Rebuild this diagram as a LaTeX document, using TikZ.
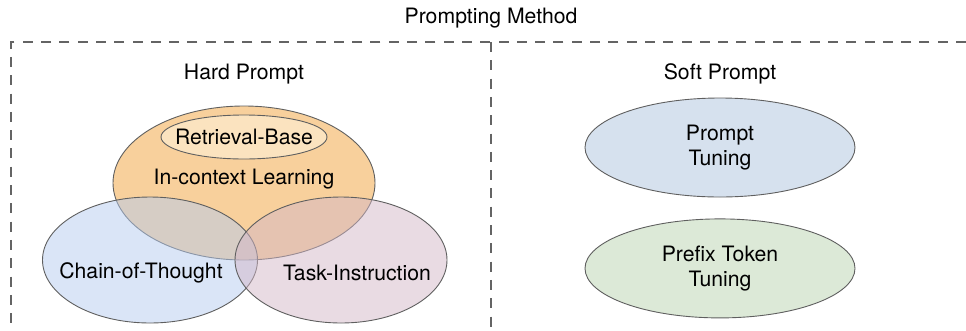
\documentclass[tikz,border=0pt]{standalone}
\usepackage{fontspec}
\setmainfont{TeX Gyre Heros}
\usetikzlibrary{shapes.geometric, positioning}

\definecolor{framegray}{RGB}{100,100,100}
\definecolor{edgegray}{RGB}{95,95,95}
\definecolor{iclfill}{RGB}{248,208,156}
\definecolor{retfill}{RGB}{251,227,191}
\definecolor{cotfill}{RGB}{181,203,239}
\definecolor{taskfill}{RGB}{211,183,199}
\definecolor{ptfill}{RGB}{214,225,238}
\definecolor{pttfill}{RGB}{220,233,215}

\begin{document}
\begin{tikzpicture}[x=1pt, y=-1pt, node distance=21pt,
		every node/.style={font=\fontsize{21.2}{24.5}\selectfont, align=center},
		blob/.style={ellipse, draw=edgegray, line width=0.9pt, inner sep=0pt},
		frameline/.style={draw=framegray, line width=2.8pt, dash pattern=on 10pt off 8.3pt}]
  \useasboundingbox (0,0) rectangle (966,330);

  % dashed frame
  \draw[frameline] (966,42) -- (11,42) -- (11,330);
  \draw[frameline] (491,42) -- (491,330);

  \node (title) at (491,18)  {Prompting Method};
  \node (hard)  at (244,74)  {Hard Prompt};
  \node (soft)  at (720,74)  {Soft Prompt};

  % hard prompt
  \node[blob, fill=iclfill, minimum width=262pt, minimum height=154pt] (icl) at (244,183) {};
  \node[blob, fill=retfill, minimum width=166pt, minimum height=44pt]  (ret) at (244,137) {};
  \node[blob, fill=cotfill, fill opacity=0.5, minimum width=215pt, minimum height=126pt] (cot) at (150,260) {};
  \node[blob, fill=taskfill, fill opacity=0.5, minimum width=212pt, minimum height=126pt] (task) at (341,260) {};

  \node (rettext)  at (ret)       {Retrieval-Base};
  \node (icltext)  at (244,179)   {In-context Learning};
  \node (cottext)  at (141,273)   {Chain-of-Thought};
  \node (tasktext) at (357,273)   {Task-Instruction};

  % soft prompt
  \node[blob, fill=ptfill, minimum width=270pt, minimum height=99pt] (pt) at (720,147.5) {Prompt\\Tuning};
  \node[blob, fill=pttfill, minimum width=270pt, minimum height=99pt] (ptt) [below=of pt] {Prefix Token\\Tuning};
\end{tikzpicture}
\end{document}
